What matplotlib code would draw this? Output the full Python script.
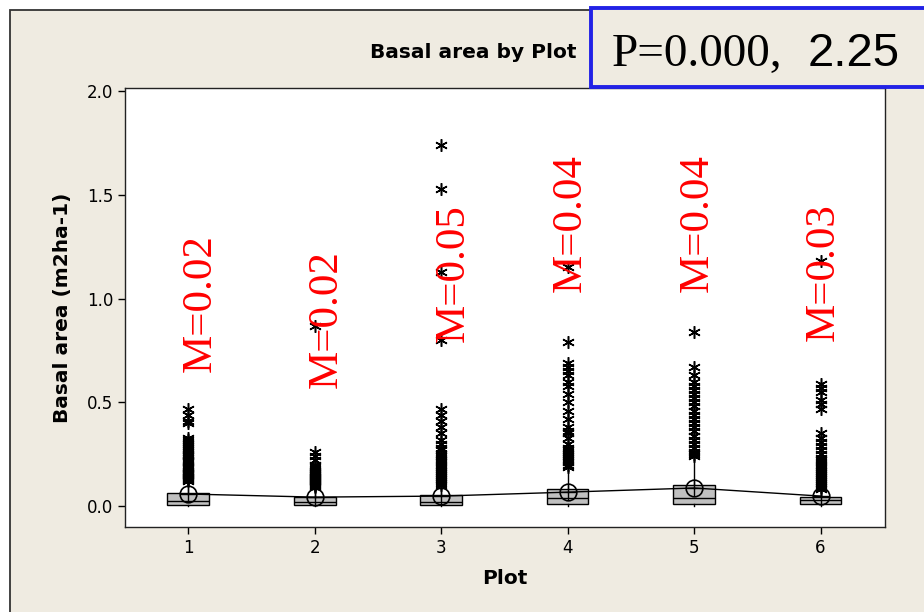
import matplotlib
matplotlib.use("Agg")
import matplotlib.pyplot as plt
from matplotlib.patches import Rectangle
import numpy as np

plots = [1, 2, 3, 4, 5, 6]
q1 = [0.005, 0.005, 0.005, 0.010, 0.012, 0.008]
medians = [0.022, 0.018, 0.020, 0.040, 0.040, 0.028]
q3 = [0.063, 0.043, 0.053, 0.082, 0.100, 0.045]
whisk_lo = [0.0, 0.0, 0.0, 0.0, 0.0, 0.0]
whisk_hi = [0.11, 0.085, 0.09, 0.18, 0.22, 0.075]
means = [0.058, 0.043, 0.048, 0.067, 0.087, 0.048]
m_labels = ["M=0.02", "M=0.02", "M=0.05", "M=0.04", "M=0.04", "M=0.03"]

out1 = [0.47, 0.44, 0.41, 0.40, 0.33, 0.32, 0.31, 0.30, 0.29, 0.28, 0.27, 0.26,
        0.25, 0.245, 0.24, 0.23, 0.22, 0.215, 0.21, 0.20, 0.19, 0.185, 0.18,
        0.17, 0.165, 0.16, 0.155, 0.15, 0.145, 0.14, 0.135, 0.13, 0.125, 0.12]
out2 = [0.87, 0.26, 0.24, 0.22, 0.20, 0.19, 0.18, 0.17, 0.165, 0.16, 0.155,
        0.15, 0.145, 0.14, 0.135, 0.13, 0.125, 0.12, 0.115, 0.11, 0.105, 0.10,
        0.095, 0.09]
out3 = [1.74, 1.53, 1.13, 0.80, 0.47, 0.44, 0.41, 0.38, 0.35, 0.32, 0.30, 0.28,
        0.27, 0.25, 0.24, 0.23, 0.22, 0.21, 0.20, 0.19, 0.18, 0.17, 0.16, 0.15,
        0.14, 0.13, 0.12, 0.11, 0.10]
out4 = [1.15, 0.79, 0.69, 0.67, 0.65, 0.63, 0.60, 0.58, 0.54, 0.50, 0.46, 0.42,
        0.38, 0.36, 0.35, 0.33, 0.30, 0.28, 0.27, 0.26, 0.25, 0.24, 0.23, 0.22,
        0.21, 0.20, 0.19]
out5 = [0.84, 0.67, 0.63, 0.60, 0.58, 0.56, 0.54, 0.52, 0.50, 0.48, 0.46, 0.44,
        0.42, 0.40, 0.38, 0.36, 0.34, 0.32, 0.30, 0.28, 0.26, 0.25, 0.24]
out6 = [1.18, 0.59, 0.57, 0.55, 0.51, 0.49, 0.47, 0.35, 0.33, 0.31, 0.29, 0.27,
        0.25, 0.23, 0.22, 0.21, 0.20, 0.19, 0.18, 0.17, 0.16, 0.15, 0.14, 0.13,
        0.12, 0.11, 0.10, 0.09, 0.08]
outliers = [out1, out2, out3, out4, out5, out6]

y_ticks = [0.0, 0.5, 1.0, 1.5, 2.0]
y_ticklabels = ["0.0", "0.5", "1.0", "1.5", "2.0"]

BG = "#EFEBE1"
W, H = 924, 612
fig = plt.figure(figsize=(W / 100, H / 100), dpi=100, facecolor="white")

# outer beige panel
fig.patches.append(Rectangle((10 / W, -0.1), 1.2, 1 - 10 / H + 0.1,
                             transform=fig.transFigure, facecolor=BG,
                             edgecolor="#333333", linewidth=1.3, zorder=0))

ax = fig.add_axes([125 / W, 1 - 527 / H, 760 / W, 439 / H])
ax.set_zorder(1)
ax.set_facecolor("white")

stats = []
for i in range(len(plots)):
    stats.append(dict(med=medians[i], q1=q1[i], q3=q3[i], whislo=whisk_lo[i],
                      whishi=whisk_hi[i], fliers=outliers[i], mean=means[i]))

ast = (6, 2, 0)
ax.bxp(stats, positions=plots, widths=0.33, patch_artist=True,
       showcaps=False, showmeans=False,
       boxprops=dict(facecolor="#C0C0C0", edgecolor="black", linewidth=1.0),
       medianprops=dict(color="black", linewidth=1.0),
       whiskerprops=dict(color="black", linewidth=1.0),
       flierprops=dict(marker=ast, markersize=9, markeredgecolor="black",
                       markerfacecolor="black", markeredgewidth=1.1,
                       linestyle="none"))

ax.plot(plots, means, color="black", linewidth=1.0, zorder=4)
ax.plot(plots, means, linestyle="none", marker="o", markersize=12,
        markerfacecolor="none", markeredgecolor="black", markeredgewidth=1.2,
        zorder=5)
ax.plot(plots, means, linestyle="none", marker="+", markersize=12,
        markeredgecolor="black", markeredgewidth=1.0, zorder=5)

label_x = [1.095, 2.095, 3.10, 4.025, 5.03, 6.025]
label_y = [0.646, 0.569, 0.79, 1.03, 1.03, 0.795]
for x, y, t in zip(label_x, label_y, m_labels):
    ax.text(x, y, t, rotation=90, color="red", fontsize=31,
            family="Liberation Serif", ha="center", va="bottom", zorder=6)

ax.set_xlim(0.5, 6.51)
ax.set_ylim(-0.101, 2.015)
ax.set_xticks(plots)
ax.set_xticklabels([str(p) for p in plots])
ax.set_yticks(y_ticks)
ax.set_yticklabels(y_ticklabels)
ax.tick_params(direction="out", length=5, width=1, labelsize=12,
               colors="black")
for s in ax.spines.values():
    s.set_color("#222222")
    s.set_linewidth(1.0)

ax.set_xlabel("Plot", fontsize=14.5, fontweight="bold", labelpad=9)
ax.set_ylabel("Basal area (m2ha-1)", fontsize=14.5, fontweight="bold",
              labelpad=11)

fig.text(577 / W, 1 - 52 / H, "Basal area by Plot", fontsize=14.5,
         fontweight="bold", ha="right", va="center")

# blue P box
fig.patches.append(Rectangle((591 / W, 1 - 87 / H), 400 / W, 79 / H,
                             transform=fig.transFigure, facecolor=BG,
                             edgecolor="#2222E6", linewidth=2.8, zorder=3))
fig.text(612 / W, 1 - 66 / H, "P=0.000,", fontsize=34,
         family="Liberation Serif", ha="left", va="baseline", zorder=4)
fig.text(808 / W, 1 - 66 / H, "2.25", fontsize=34,
         family="Liberation Sans", ha="left", va="baseline", zorder=4)

fig.savefig("out.png", dpi=100, facecolor=fig.get_facecolor())
